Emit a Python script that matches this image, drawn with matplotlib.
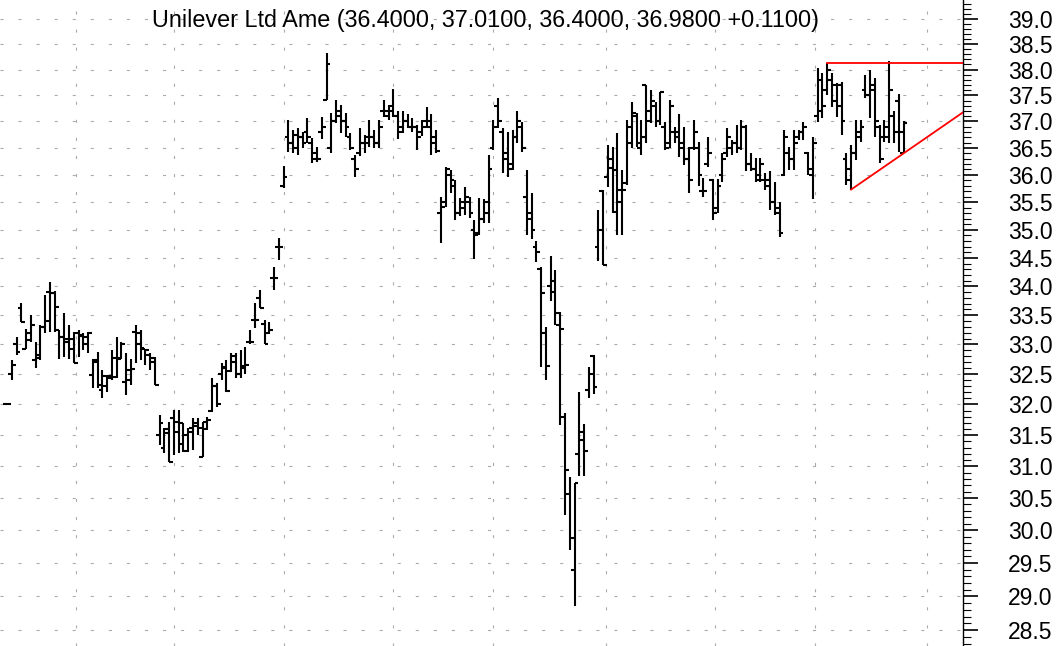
import numpy as np
import matplotlib.pyplot as plt
from matplotlib.ticker import FixedLocator, FormatStrFormatter, NullFormatter

plt.rcParams['font.family'] = ['Liberation Sans', 'DejaVu Sans']
plt.rcParams['lines.scale_dashes'] = False

title = "Unilever Ltd Ame (36.4000, 37.0100, 36.4000, 36.9800 +0.1100)"

# daily OHLC
opens = [32.00, 32.50, 33.00, 33.63, 32.93, 33.20, 32.74, 32.82, 33.30, 33.90,
         33.88, 33.25, 33.13, 33.10, 33.10, 33.20, 33.15, 33.00, 32.48, 32.71,
         32.24, 32.30, 32.43, 32.45, 32.78, 32.37, 32.40, 33.22, 33.20, 32.93,
         32.83, 32.70, 31.50, 31.30, 31.60, 31.78, 31.55, 31.35, 31.25, 31.61,
         31.70, 31.15, 31.60, 31.90, 32.30, 32.50, 32.60, 32.55, 32.70, 32.50,
         32.60, 33.05, 33.42, 33.80, 33.35, 33.20, 34.14, 34.70, 35.80, 36.70,
         36.60, 36.50, 36.70, 36.80, 36.60, 36.40, 36.80, 37.41, 36.50, 37.00,
         37.10, 37.00, 36.70, 36.30, 36.40, 36.60, 36.60, 36.70, 36.60, 37.20,
         37.10, 37.30, 37.10, 36.90, 37.00, 36.90, 36.90, 36.80, 37.00, 37.00,
         36.70, 35.30, 35.50, 36.00, 35.80, 35.30, 35.40, 35.50, 35.00, 34.95,
         35.20, 35.30, 36.50, 37.30, 36.80, 36.40, 36.20, 36.70, 36.90, 35.60,
         35.30, 34.70, 34.30, 33.20, 34.00, 34.10, 33.34, 31.80, 30.57, 29.40,
         31.20, 31.42, 32.24, 32.80, 34.70, 35.70, 35.96, 36.30, 36.09, 35.50,
         35.85, 36.60, 37.10, 36.50, 37.70, 37.20, 37.30, 37.00, 36.90, 36.60,
         36.80, 36.80, 36.60, 36.30, 36.50, 36.50, 35.70, 36.20, 35.90, 35.40,
         36.00, 36.40, 36.50, 36.60, 36.50, 36.90, 36.20, 36.10, 35.90, 35.90,
         35.90, 35.50, 35.30, 36.00, 36.40, 36.30, 36.70, 36.80, 36.40, 36.00,
         37.10, 37.80, 37.60, 37.80, 37.70, 37.70, 36.30, 35.90, 36.40, 36.70,
         37.60, 37.50, 37.60, 36.90, 36.70, 36.70, 37.10, 37.40, 36.40]
highs = [32.02, 32.73, 33.13, 33.71, 33.26, 33.51, 33.05, 33.34, 33.85, 34.08,
         33.91, 33.25, 33.54, 33.34, 33.22, 33.25, 33.19, 33.22, 32.76, 32.88,
         32.57, 32.48, 32.90, 33.13, 33.05, 32.85, 32.76, 33.34, 33.25, 32.93,
         32.85, 32.79, 31.83, 31.61, 31.72, 31.91, 31.91, 31.70, 31.61, 31.78,
         31.78, 31.72, 31.80, 32.43, 32.35, 32.68, 32.73, 32.85, 32.85, 32.90,
         32.96, 33.25, 33.71, 33.94, 33.41, 33.39, 34.33, 34.86, 36.16, 37.02,
         36.84, 36.87, 36.80, 37.06, 36.68, 36.52, 37.08, 38.33, 37.17, 37.41,
         37.31, 37.17, 36.78, 36.37, 36.87, 36.74, 37.03, 36.84, 37.03, 37.41,
         37.31, 37.62, 37.20, 37.20, 37.15, 37.06, 36.93, 37.03, 37.27, 37.15,
         36.84, 35.60, 36.15, 36.09, 35.90, 35.58, 35.78, 35.60, 35.18, 35.58,
         35.55, 36.37, 37.03, 37.45, 36.87, 36.80, 36.84, 37.20, 36.99, 36.09,
         35.67, 34.80, 34.34, 33.30, 34.53, 34.29, 33.56, 31.86, 30.83, 30.74,
         32.20, 31.68, 32.62, 32.82, 35.35, 35.73, 36.55, 36.52, 36.78, 36.09,
         37.03, 37.37, 37.17, 37.03, 37.70, 37.60, 37.37, 37.56, 36.99, 37.41,
         36.90, 37.15, 36.90, 36.52, 37.03, 36.61, 35.95, 36.70, 35.92, 35.92,
         36.40, 36.87, 36.65, 36.93, 37.03, 36.93, 36.40, 36.31, 36.31, 36.03,
         36.07, 35.87, 35.51, 36.84, 36.52, 36.84, 36.84, 36.99, 36.42, 36.70,
         38.03, 37.93, 38.13, 37.93, 37.74, 37.76, 36.40, 36.55, 37.03, 37.03,
         37.90, 37.99, 37.84, 36.93, 37.03, 38.17, 37.20, 37.53, 37.01]
lows = [31.99, 32.41, 32.82, 33.39, 32.92, 33.05, 32.60, 32.74, 33.19, 33.22,
        33.22, 32.76, 32.79, 32.76, 32.68, 32.79, 32.90, 32.85, 32.27, 32.27,
        32.10, 32.21, 32.40, 32.43, 32.76, 32.15, 32.32, 32.68, 32.74, 32.65,
        32.57, 32.32, 31.34, 31.22, 31.07, 31.18, 31.21, 31.23, 31.23, 31.26,
        31.50, 31.15, 31.58, 31.88, 31.96, 32.40, 32.21, 32.54, 32.43, 32.43,
        32.51, 33.00, 33.28, 33.63, 33.00, 33.17, 33.94, 34.46, 35.76, 36.43,
        36.40, 36.37, 36.50, 36.60, 36.22, 36.24, 36.66, 37.41, 36.40, 36.97,
        36.78, 36.70, 36.47, 35.96, 36.35, 36.40, 36.52, 36.50, 36.50, 37.08,
        37.03, 37.08, 36.66, 36.78, 36.87, 36.80, 36.47, 36.72, 36.87, 36.37,
        36.40, 34.76, 35.42, 35.67, 35.18, 35.24, 35.27, 35.22, 34.48, 34.91,
        35.13, 35.13, 36.46, 36.87, 36.03, 35.96, 36.09, 36.60, 36.43, 34.91,
        34.84, 34.42, 32.62, 32.40, 33.74, 33.34, 31.66, 30.24, 29.70, 28.85,
        30.85, 30.85, 32.11, 32.18, 34.45, 34.38, 35.78, 35.30, 34.91, 34.91,
        35.82, 36.50, 36.52, 36.37, 36.60, 36.97, 36.90, 36.93, 36.46, 36.50,
        36.60, 36.33, 36.18, 35.67, 36.46, 35.80, 35.60, 36.15, 35.18, 35.30,
        35.87, 36.33, 36.37, 36.40, 36.46, 36.07, 36.07, 35.87, 35.87, 35.73,
        35.36, 35.27, 34.87, 35.98, 36.09, 36.09, 36.65, 36.65, 36.00, 35.55,
        36.99, 37.06, 37.50, 37.27, 37.08, 36.74, 35.82, 35.73, 36.27, 36.61,
        37.45, 37.06, 36.70, 36.22, 36.61, 36.60, 36.60, 36.42, 36.40]
closes = [32.01, 32.65, 32.88, 33.39, 33.08, 33.33, 32.77, 33.30, 33.40, 33.88,
          33.64, 33.13, 33.05, 32.93, 32.68, 33.16, 33.13, 33.20, 32.74, 32.32,
          32.47, 32.47, 32.77, 32.76, 33.00, 32.57, 32.58, 33.00, 32.94, 32.90,
          32.77, 32.32, 31.70, 31.53, 31.07, 31.72, 31.70, 31.50, 31.55, 31.65,
          31.62, 31.72, 31.75, 32.30, 32.00, 32.62, 32.22, 32.80, 32.50, 32.64,
          32.66, 33.05, 33.42, 33.63, 33.00, 33.25, 34.14, 34.70, 35.97, 36.60,
          36.75, 36.70, 36.60, 36.70, 36.30, 36.30, 36.90, 38.10, 37.00, 37.20,
          37.00, 36.90, 36.50, 36.10, 36.60, 36.70, 36.70, 36.60, 36.90, 37.20,
          37.20, 37.10, 36.80, 37.00, 36.90, 36.90, 36.70, 36.90, 36.90, 36.60,
          36.45, 35.42, 36.10, 35.90, 35.30, 35.50, 35.60, 35.30, 34.90, 35.20,
          35.50, 36.10, 36.90, 37.00, 36.30, 36.10, 36.70, 37.00, 36.50, 35.20,
          35.00, 34.60, 33.89, 32.64, 33.90, 33.54, 33.27, 30.94, 29.88, 30.74,
          31.55, 31.24, 32.50, 32.29, 35.00, 34.38, 36.13, 35.32, 35.73, 35.73,
          36.90, 37.17, 36.60, 36.70, 37.00, 37.40, 37.00, 37.56, 36.50, 37.30,
          36.70, 36.50, 36.30, 35.90, 36.80, 36.00, 35.70, 36.40, 35.30, 35.80,
          36.30, 36.70, 36.60, 36.50, 36.90, 36.20, 36.10, 36.00, 36.20, 35.80,
          35.50, 35.40, 34.95, 36.70, 36.30, 36.60, 36.80, 36.90, 36.10, 36.60,
          37.20, 37.30, 38.00, 37.40, 37.30, 37.00, 36.10, 36.40, 36.80, 36.90,
          37.50, 37.70, 37.00, 36.30, 36.90, 37.60, 36.80, 36.80, 36.98]

# bar index where each month starts (vertical dotted lines)
month_lines = [14.5, 35, 58, 81, 102, 125.5, 148.5, 169.5, 193]

# trend lines: flat top from bar 172, rising support through bars 177 and 188
top_start = 172
support_bars = [177, 188]

price_levels = np.round(np.arange(28.5, 39.01, 0.5), 1)
minor_levels = [v for v in np.round(np.arange(28.3, 39.35, 0.1), 1)
                if round(v * 10) % 5 != 0]

n = len(closes)
x = np.arange(n)
xmin, xmax = -1.47, 200.4

fig = plt.figure(figsize=(10.61, 6.46), dpi=100)
ax = fig.add_axes([0, 0, 962.7 / 1061, 1])
ax.set_yscale('log')
ax.set_ylim(28.27, 39.38)
ax.set_xlim(xmin, xmax)

# dotted grid
for lvl in price_levels:
    ax.axhline(lvl, color='#aaaaaa', lw=0.8, ls=(0, (2.2, 10.8)), zorder=0)
for m in month_lines:
    ax.axvline(m, color='#aaaaaa', lw=0.8, ls=(0, (2.2, 10.8)), zorder=0)

# OHLC bars
tick_w = 0.8
ax.vlines(x, lows, highs, color='black', lw=1.5, zorder=2)
ax.hlines(opens, x - tick_w, x, color='black', lw=1.5, zorder=2)
ax.hlines(closes, x, x + tick_w, color='black', lw=1.5, zorder=2)

# red trend lines
ax.plot([top_start, xmax], [highs[top_start], highs[top_start]],
        color='red', lw=1.3, zorder=3)
b0, b1 = support_bars
slope = (np.log(lows[b1]) - np.log(lows[b0])) / (b1 - b0)
xs = np.array([b0, xmax])
ax.plot(xs, np.exp(np.log(lows[b0]) + slope * (xs - b0)),
        color='red', lw=1.3, zorder=3)

# right price axis
for side in ['left', 'top', 'bottom']:
    ax.spines[side].set_visible(False)
ax.spines['right'].set_linewidth(1.0)
ax.set_xticks([])
ax.yaxis.tick_right()
ax.yaxis.set_major_locator(FixedLocator(price_levels))
ax.yaxis.set_major_formatter(FormatStrFormatter('%.1f'))
ax.yaxis.set_minor_locator(FixedLocator(minor_levels))
ax.yaxis.set_minor_formatter(NullFormatter())
ax.tick_params(axis='y', which='major', length=10.8, width=1.2, pad=22,
               labelsize=16.5, direction='out')
ax.tick_params(axis='y', which='minor', length=5.4, width=0.8, direction='out')

ax.text(0.504, 1 - 20 / 646, title, transform=ax.transAxes, ha='center',
        va='center', fontsize=16.8, zorder=4)

fig.savefig('out.png', dpi=100)
